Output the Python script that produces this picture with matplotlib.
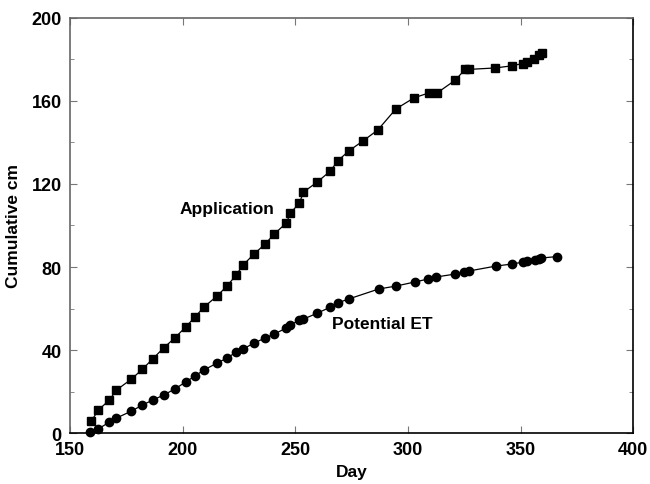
import matplotlib
matplotlib.use("Agg")
import matplotlib.pyplot as plt
from matplotlib.ticker import MultipleLocator

plt.rcParams['font.family'] = ['Liberation Sans', 'DejaVu Sans']
plt.rcParams['font.weight'] = 'bold'

# === Data ===
app_day = [159.4, 162.5, 167.4, 170.5, 177.2, 182.1, 186.6, 191.5, 196.4, 201.3,
           205.4, 209.4, 215.2, 219.6, 223.7, 226.8, 231.7, 236.6, 240.6, 246.0,
           247.8, 251.8, 253.6, 259.8, 265.6, 268.8, 273.7, 280.0, 286.6, 294.6,
           302.7, 309.4, 313.0, 321.0, 325.4, 327.2, 338.8, 346.0, 350.9, 353.1,
           355.8, 358.0, 359.4]
app_cm = [5.8, 11.1, 15.9, 20.7, 26.0, 30.8, 35.7, 41.0, 45.8, 51.1,
          55.9, 60.7, 66.0, 70.8, 76.1, 81.0, 86.3, 91.1, 95.9, 101.2,
          106.0, 110.8, 116.1, 121.0, 126.3, 131.1, 135.9, 140.7, 146.0, 156.1,
          161.5, 163.9, 163.9, 170.0, 175.2, 175.2, 175.9, 176.9, 178.0, 179.0,
          180.2, 182.0, 183.0]

et_day = [158.9, 162.5, 167.4, 170.5, 177.2, 182.1, 186.6, 191.5, 196.4, 201.3,
          205.4, 209.4, 215.2, 219.6, 223.7, 226.8, 231.7, 236.6, 240.6, 246.0,
          247.8, 251.8, 253.6, 259.8, 265.6, 268.8, 273.7, 287.0, 294.6, 303.1,
          308.9, 312.5, 321.0, 325.0, 327.2, 339.3, 346.0, 351.3, 353.1, 356.3,
          358.0, 358.9, 366.0]
et_cm = [0.3, 2.0, 5.3, 7.2, 10.6, 13.5, 15.9, 18.3, 21.2, 24.6,
         27.5, 30.4, 33.7, 36.1, 39.0, 40.5, 43.4, 45.8, 47.7, 50.6,
         52.0, 54.5, 54.9, 57.8, 60.7, 62.7, 64.6, 69.4, 70.8, 72.8,
         74.2, 75.2, 76.6, 77.6, 78.1, 80.5, 81.4, 82.4, 82.9, 83.4,
         83.9, 84.3, 85.0]

# === Plot ===
fig = plt.figure(figsize=(6.5, 4.85), dpi=100)
ax = fig.add_axes([0.108, 0.105, 0.866, 0.856])

ax.plot(app_day, app_cm, color='black', lw=0.9, marker='s', markersize=6,
        clip_on=False)
ax.plot(et_day, et_cm, color='black', lw=0.9, marker='o', markersize=6,
        clip_on=False)

ax.text(219.5, 108, "Application", fontsize=12.5, fontweight='bold', ha='center', va='center')
ax.text(288.5, 53, "Potential ET", fontsize=12.5, fontweight='bold', ha='center', va='center')

ax.set_xlim(150, 400)
ax.set_ylim(0, 200)
ax.xaxis.set_major_locator(MultipleLocator(50))
ax.yaxis.set_major_locator(MultipleLocator(40))
ax.yaxis.set_minor_locator(MultipleLocator(20))
ax.tick_params(which='both', direction='in', top=True, right=True,
               labelsize=13, color='#777777', pad=6)
ax.tick_params(which='major', length=5)
ax.tick_params(which='minor', length=3)
for lbl in ax.get_xticklabels() + ax.get_yticklabels():
    lbl.set_fontweight('bold')

ax.spines['top'].set_color('#666666')
ax.spines['left'].set_color('#666666')
ax.spines['bottom'].set_color('black')
ax.spines['right'].set_color('black')
for s in ax.spines.values():
    s.set_linewidth(1.2)

ax.set_xlabel("Day", fontsize=12.5, fontweight='bold', labelpad=4)
ax.set_ylabel("Cumulative cm", fontsize=12.5, fontweight='bold', labelpad=8)

plt.savefig("out.png", dpi=100)
print("saved out.png")
